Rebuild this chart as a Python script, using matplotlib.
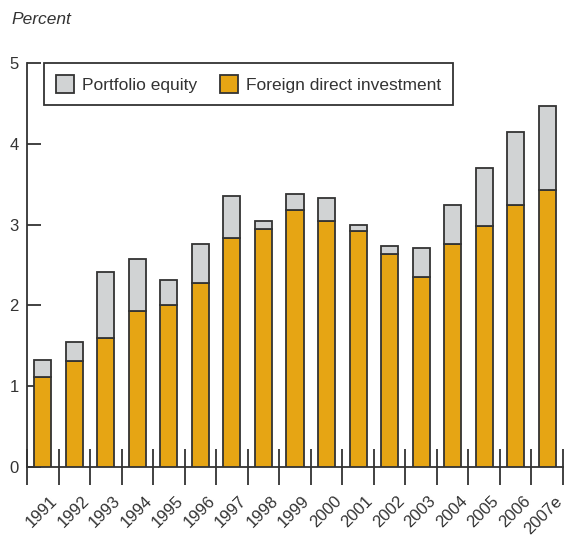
import matplotlib
matplotlib.use("Agg")
import matplotlib.pyplot as plt
from matplotlib.patches import Patch
import matplotlib.transforms as mtransforms
import numpy as np

plt.rcParams['font.family'] = ['Liberation Sans', 'DejaVu Sans']

years = ['1991', '1992', '1993', '1994', '1995', '1996', '1997', '1998', '1999',
         '2000', '2001', '2002', '2003', '2004', '2005', '2006', '2007e']
fdi = [1.12, 1.31, 1.60, 1.93, 2.01, 2.28, 2.84, 2.94, 3.18,
       3.05, 2.92, 2.63, 2.35, 2.76, 2.98, 3.24, 3.43]
portfolio = [0.20, 0.24, 0.81, 0.64, 0.30, 0.48, 0.51, 0.11, 0.20,
             0.28, 0.08, 0.11, 0.36, 0.48, 0.72, 0.91, 1.04]

orange = '#E6A514'
gray = '#D1D3D4'
edge = '#333333'
txt = '#333333'

fig = plt.figure(figsize=(5.66, 5.38), dpi=100)
ax = fig.add_axes([27/566, 1-467/538, (563-27)/566, (467-63)/538])

x = np.arange(len(years))
w = 0.54
ax.bar(x, fdi, width=w, color=orange, edgecolor=edge, linewidth=1.3, zorder=3)
ax.bar(x, portfolio, bottom=fdi, width=w, color=gray, edgecolor=edge, linewidth=1.3, zorder=3)

ax.set_xlim(-0.5, len(years) - 0.5)
ax.set_ylim(0, 5)
for s in ['top', 'right']:
    ax.spines[s].set_visible(False)
for s in ['left', 'bottom']:
    ax.spines[s].set_color(edge)
    ax.spines[s].set_linewidth(1.3)

ax.set_yticks([0, 1, 2, 3, 4, 5])
ax.tick_params(axis='y', direction='in', length=10, width=1.3, color=edge,
               labelsize=12, labelcolor=txt, pad=6)

ax.set_xticks(x)
ax.set_xticklabels(years, rotation=45, ha='right', va='top', rotation_mode='anchor')
ax.tick_params(axis='x', which='major', length=0, labelsize=12, labelcolor=txt, pad=19)
ax.set_xticks(np.arange(-0.5, len(years)), minor=True)
ax.tick_params(axis='x', which='minor', direction='inout', length=26, width=1.3, color=edge)
offset = mtransforms.ScaledTranslation(7/100, 0, fig.dpi_scale_trans)
for lab in ax.get_xticklabels():
    lab.set_transform(lab.get_transform() + offset)

fig.text(11/566, 1-20/538, 'Percent', fontsize=12.5, style='italic', color=txt, va='center', ha='left')

handles = [Patch(facecolor=gray, edgecolor=edge, linewidth=1.3, label='Portfolio equity'),
           Patch(facecolor=orange, edgecolor=edge, linewidth=1.3, label='Foreign direct investment')]
leg = ax.legend(handles=handles, ncol=2, loc='upper left', bbox_to_anchor=(17/536, 1.0),
                borderaxespad=0, frameon=True, fancybox=False, fontsize=12.5,
                handlelength=1.05, handleheight=1.2, handletextpad=0.45, columnspacing=1.3,
                borderpad=0.7, labelcolor=txt)
leg.get_frame().set_edgecolor(edge)
leg.get_frame().set_linewidth(1.3)
leg.get_frame().set_alpha(1)

fig.savefig('out.png', dpi=100)
